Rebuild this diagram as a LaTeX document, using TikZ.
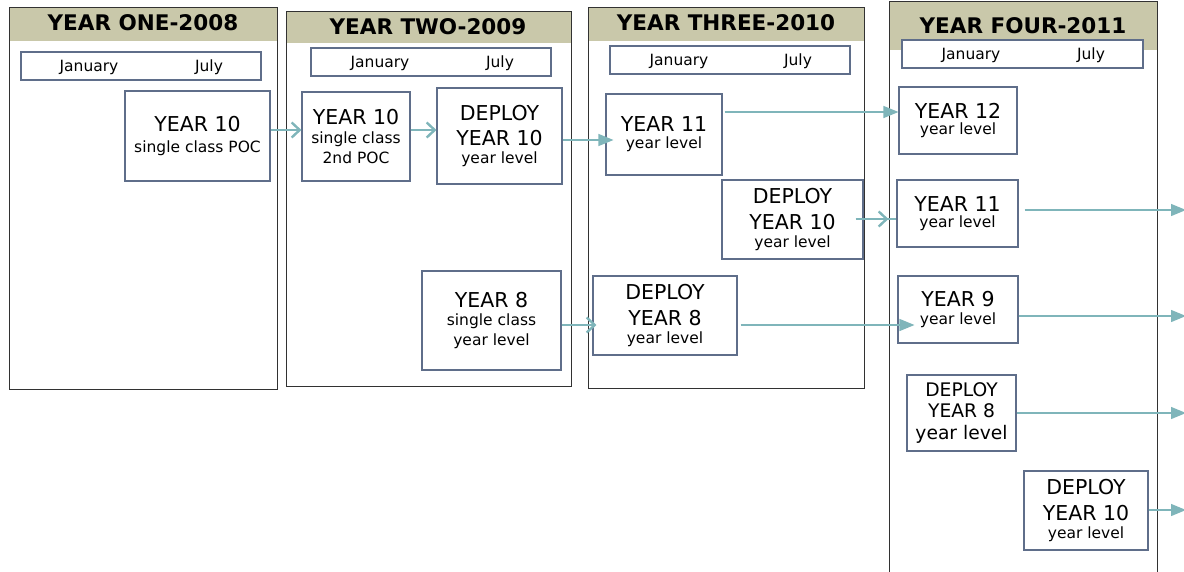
\documentclass[tikz,border=0pt]{standalone}
\usepackage{fontspec}
\setmainfont{DejaVu Sans}
\usetikzlibrary{arrows.meta}
\definecolor{hdr}{RGB}{201,200,170}
\definecolor{slate}{RGB}{95,110,138}
\definecolor{teal}{RGB}{127,181,186}
\definecolor{frame}{RGB}{50,50,50}
\newcommand{\ftL}{\fontsize{20.5}{25}\selectfont}
\newcommand{\ftM}{\fontsize{18.7}{23}\selectfont}
\newcommand{\ftS}{\fontsize{15.5}{19}\selectfont}
\tikzset{
  panel/.style={draw=frame, line width=1pt},
  hdrband/.style={fill=hdr},
  title/.style={font=\fontsize{21.5}{25}\selectfont\bfseries},
  jbox/.style={draw=slate, line width=1.1pt, fill=white, minimum width=240, minimum height=28, inner sep=0},
  month/.style={font=\fontsize{15.5}{19}\selectfont},
  box/.style={draw=slate, line width=1.1pt, fill=white, align=center, inner sep=0},
  solid arrow/.style={draw=teal, line width=1.3pt, -{Triangle[length=15pt,width=12pt]}},
  chev arrow/.style={draw=teal, line width=1.3pt, -{Straight Barb[length=8pt,width=15pt,line width=2.4pt]}}
}
\begin{document}
\begin{tikzpicture}[x=1pt,y=-1pt]
\useasboundingbox (0,0) rectangle (1184,571);
% panels
\fill[hdrband] (9,7) rectangle (277,41);
\draw[panel] (9,7) rectangle (277,389);
\node[title] (t1) at (143,23) {YEAR ONE-2008};
\fill[hdrband] (286,11) rectangle (571,43);
\draw[panel] (286,11) rectangle (571,386);
\node[title] (t2) at (428,27) {YEAR TWO-2009};
\fill[hdrband] (588,7) rectangle (864,41);
\draw[panel] (588,7) rectangle (864,388);
\node[title] (t3) at (726,23) {YEAR THREE-2010};
\fill[hdrband] (889,1) rectangle (1157,50);
\draw[panel] (889,600) -- (889,1) -- (1157,1) -- (1157,600);
\node[title] (t4) at (1023,26) {YEAR FOUR-2011};
% month boxes
\node[jbox] (jb1) at (141,66) {};
\node[month] (jan1) at (89,67) {January};
\node[month] (jul1) at (209,67) {July};
\node[jbox] (jb2) at (431,62) {};
\node[month] (jan2) at (380,63) {January};
\node[month] (jul2) at (500,63) {July};
\node[jbox] (jb3) at (730,60) {};
\node[month] (jan3) at (679,61) {January};
\node[month] (jul3) at (798,61) {July};
\node[jbox, minimum width=241] (jb4) at (1022.5,54) {};
\node[month] (jan4) at (971,55) {January};
\node[month] (jul4) at (1091,55) {July};
% boxes
\node[box, minimum width=145, minimum height=90] (n1) at (197.5,136) {\ftL YEAR 10\\[8pt]\ftS single class POC};
\node[box, minimum width=108, minimum height=89] (n2) at (356,136.5) {\ftL YEAR 10\\[5pt]\ftS single class\\[4pt]\ftS 2nd POC};
\node[box, minimum width=125, minimum height=96] (n3) at (499.5,136) {\ftL DEPLOY\\[9pt]\ftL YEAR 10\\[5pt]\ftS year level};
\node[box, minimum width=139, minimum height=99] (n4) at (491.5,320.5) {\ftL YEAR 8\\[5pt]\ftS single class\\[4pt]\ftS year level};
\node[box, minimum width=116, minimum height=81] (n5) at (664,134.5) {\ftL YEAR 11\\[5pt]\ftS year level};
\node[box, minimum width=141, minimum height=79] (n6) at (792.5,219.5) {\ftL DEPLOY\\[9pt]\ftL YEAR 10\\[5pt]\ftS year level};
\node[box, minimum width=144, minimum height=79] (n7) at (665,315.5) {\ftL DEPLOY\\[9pt]\ftL YEAR 8\\[5pt]\ftS year level};
\node[box, minimum width=118, minimum height=67] (n8) at (958,120.5) {\ftL YEAR 12\\[4pt]\ftS year level};
\node[box, minimum width=121, minimum height=67] (n9) at (957.5,213.5) {\ftL YEAR 11\\[4pt]\ftS year level};
\node[box, minimum width=120, minimum height=67] (n10) at (958,309.5) {\ftL YEAR 9\\[4pt]\ftS year level};
\node[box, minimum width=109, minimum height=76] (n11) at (961.5,413) {\ftM DEPLOY\\[6pt]\ftM YEAR 8\\[6pt]\ftM year level};
\node[box, minimum width=124, minimum height=79] (n12) at (1086,510.5) {\ftL DEPLOY\\[9pt]\ftL YEAR 10\\[5pt]\ftS year level};
% exits
\coordinate (o9) at (1186,210);
\coordinate (o10) at (1186,316);
\coordinate (o11) at (1186,413);
\coordinate (o12) at (1186,510);
% arrows
\draw[chev arrow] (n1.east |- 0,130) -- (n2.west |- 0,130);
\draw[chev arrow] (n2.east |- 0,130) -- (n3.west |- 0,130);
\draw[solid arrow] (n3.east |- 0,140) -- ([xshift=8]n5.west |- 0,140);
\draw[solid arrow] ([xshift=2]n5.east |- 0,112) -- (n8.west |- 0,112);
\draw[chev arrow] ([xshift=-8]n6.east |- 0,219) -- ([xshift=-8]n9.west |- 0,219);
\draw[teal, line width=1.3pt] ([xshift=-10]n9.west |- 0,219) -- (n9.west |- 0,219);
\draw[solid arrow] ([xshift=6]n9.east |- 0,210) -- (o9);
\draw[chev arrow] (n4.east |- 0,325) -- ([xshift=4]n7.west |- 0,325);
\draw[solid arrow] ([xshift=3]n7.east |- 0,325) -- ([xshift=17]n10.west |- 0,325);
\draw[solid arrow] (n10.east |- o10) -- (o10);
\draw[solid arrow] (n11.east |- o11) -- (o11);
\draw[solid arrow] (n12.east |- o12) -- (o12);
\end{tikzpicture}
\end{document}
